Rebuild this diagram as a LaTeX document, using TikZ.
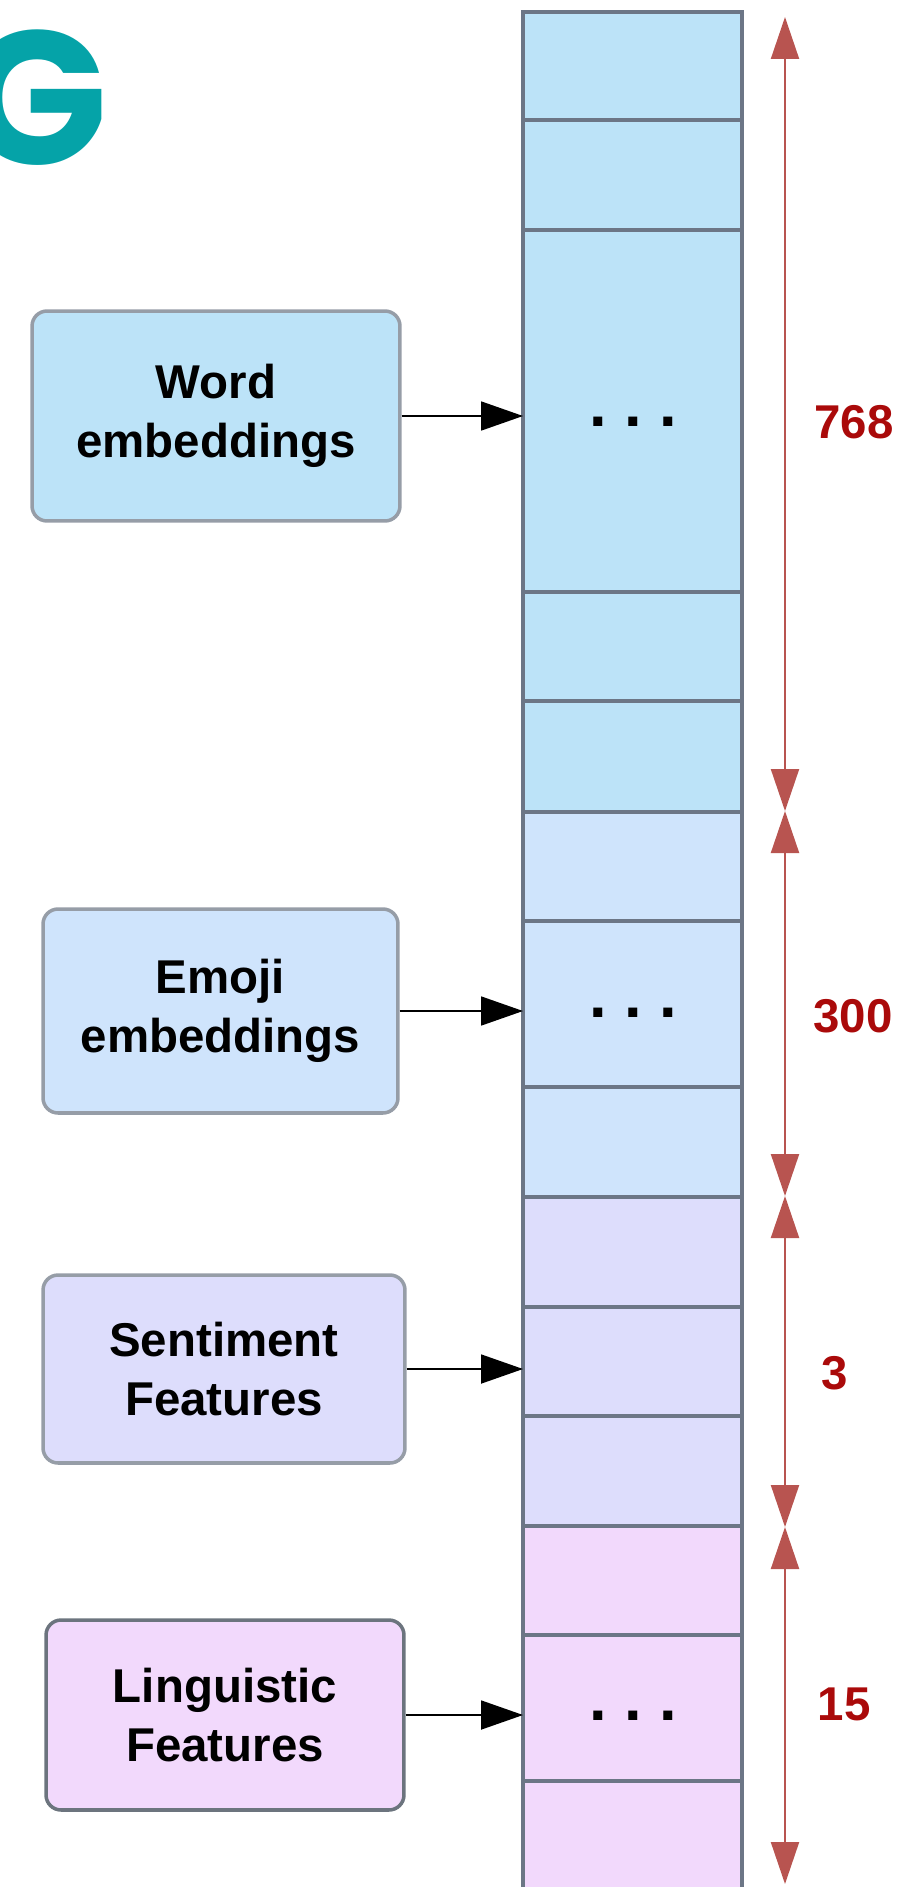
\documentclass[tikz,border=0pt]{standalone}
\usepackage{fontspec}
\setmainfont{Liberation Sans}
\newfontfamily\logofont{Poppins}
\usetikzlibrary{arrows.meta}
\definecolor{wordfill}{RGB}{188,227,248}
\definecolor{emojifill}{RGB}{207,228,252}
\definecolor{sentfill}{RGB}{221,221,252}
\definecolor{lingfill}{RGB}{242,217,252}
\definecolor{cellline}{RGB}{108,118,134}
\definecolor{boxline}{RGB}{150,157,167}
\definecolor{boxdark}{RGB}{108,116,126}
\definecolor{dimred}{RGB}{184,84,80}
\definecolor{numred}{RGB}{170,10,10}
\definecolor{logoteal}{RGB}{5,163,168}

\begin{document}
\begin{tikzpicture}[x=0.02cm, y=-0.02cm, every node/.style={font=\bfseries\fontsize{27}{33.5}\selectfont}, >={Triangle[length=8.4mm, width=5.8mm]},
	feat/.style={draw=boxline, line width=2pt, rounded corners=3mm, align=center, inner sep=0pt},
	cell/.style={draw=cellline, line width=2.3pt, minimum width=4.38cm, inner sep=0pt, outer sep=0pt},
	dim/.style={draw=dimred, line width=1.2pt, arrows={Triangle[length=8.4mm, width=5.6mm]-Triangle[length=8.4mm, width=5.6mm]}},
	num/.style={text=numred, inner sep=0pt},
	dots/.style={font=\bfseries\fontsize{36}{36}\selectfont, inner sep=0pt, anchor=base}]
	\useasboundingbox (0,0) rectangle (900,1887);
	\clip (0,0) rectangle (900,1887);
	% logo letter, cut at the left edge
	\node[font=\logofont\bfseries\fontsize{108}{108}\selectfont, text=logoteal, inner sep=0pt, anchor=base east] (logo) at (108,164) {G};
	% the concatenated vector
	\foreach \yt/\yb/\col [count=\i] in {12/120/wordfill, 120/230/wordfill, 230/592/wordfill, 592/701/wordfill, 701/812/wordfill,
		812/921/emojifill, 921/1087/emojifill, 1087/1197/emojifill, 1197/1307/sentfill, 1307/1416/sentfill, 1416/1526/sentfill,
		1526/1635/lingfill, 1635/1781/lingfill, 1781/1930/lingfill}
		\node[cell, fill=\col, minimum height={(\yb-\yt)*0.02cm}] (c\i) at (632.5,{(\yt+\yb)/2}) {};
	% feature blocks
	\node[feat, fill=wordfill, minimum width=7.36cm, minimum height=4.2cm] (word) at (216,416) {Word\\embeddings};
	\node[feat, fill=emojifill, minimum width=7.1cm, minimum height=4.08cm] (emoji) at (220.5,1011) {Emoji\\embeddings};
	\node[feat, fill=sentfill, minimum width=7.24cm, minimum height=3.76cm] (sent) at (224,1369) {Sentiment\\Features};
	\node[feat, draw=boxdark, fill=lingfill, minimum width=7.16cm, minimum height=3.8cm] (ling) at (225,1715) {Linguistic\\Features};
	\draw[->, line width=1pt] (word.east) -- (word.east -| c3.west);
	\draw[->, line width=1pt] (emoji.east) -- (emoji.east -| c7.west);
	\draw[->, line width=1pt] (sent.east) -- (sent.east -| c10.west);
	\draw[->, line width=1pt] (ling.east) -- (ling.east -| c13.west);
	\node[dots] (wdots) at (633,426) {.\kern10pt.\kern10pt.};
	\node[dots] (edots) at (633,1017) {.\kern10pt.\kern10pt.};
	\node[dots] (ldots) at (633,1720) {.\kern10pt.\kern10pt.};
	% sizes of the parts
	\coordinate (d0) at (785,17); \coordinate (d1) at (785,811); \coordinate (d2) at (785,1196);
	\coordinate (d3) at (785,1527); \coordinate (d4) at (785,1884);
	\draw[dim] (d0) -- (d1); \draw[dim] (d1) -- (d2); \draw[dim] (d2) -- (d3); \draw[dim] (d3) -- (d4);
	\node[num] (n768) at (854,422) {768};
	\node[num] (n300) at (853,1016) {300};
	\node[num] (n3) at (835,1373) {3};
	\node[num] (n15) at (844,1704) {15};
\end{tikzpicture}
\end{document}
